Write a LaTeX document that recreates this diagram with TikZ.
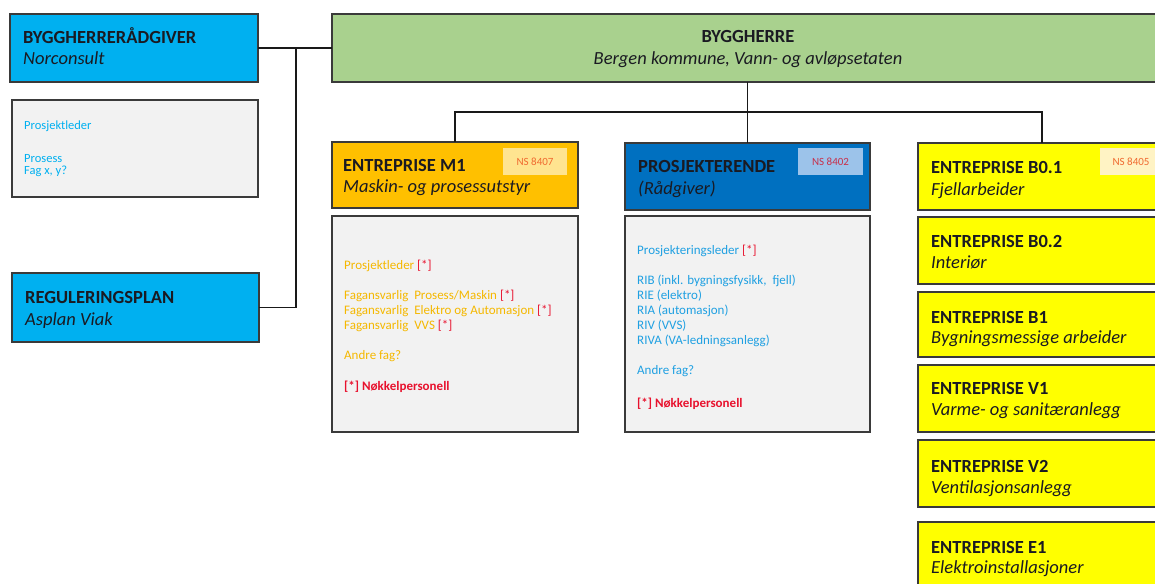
\documentclass[tikz,border=0pt]{standalone}
\usepackage{fontspec}
\setmainfont{Carlito}
\definecolor{ltblue}{HTML}{00B0F0}
\definecolor{dkblue}{HTML}{0070C0}
\definecolor{grn}{HTML}{A9D18E}
\definecolor{orng}{HTML}{FFC000}
\definecolor{ylw}{HTML}{FFFF00}
\definecolor{gry}{HTML}{F2F2F2}
\definecolor{edge}{HTML}{3A3A3A}
\definecolor{star}{HTML}{E8112D}
\definecolor{txtdark}{HTML}{1A1A22}
\definecolor{mtxt}{HTML}{F5B800}
\definecolor{ptxt}{HTML}{1FA0E2}
\definecolor{tagy}{HTML}{FFE490}
\definecolor{tagb}{HTML}{9CC3EA}
\definecolor{tagp}{HTML}{FFF3C4}
\definecolor{tagtxt}{HTML}{F06A30}
\definecolor{tagtxtb}{HTML}{C8304A}
\tikzset{
 box/.style={draw=edge, line width=1.3pt, rectangle, inner sep=0pt, outer sep=0pt, anchor=north west},
 ttl/.style={anchor=base west, inner sep=0pt, font=\fontsize{18.5}{21}\selectfont\bfseries, text=txtdark},
 sub/.style={anchor=base west, inner sep=0pt, font=\fontsize{18.5}{21}\selectfont\itshape, text=txtdark},
 itm/.style={anchor=base west, inner sep=0pt, font=\fontsize{13}{15}\selectfont},
 pitm/.style={itm, text=ptxt},
 mitm/.style={itm, text=mtxt},
 litm/.style={itm, text=ltblue, font=\fontsize{12.5}{14}\selectfont},
 keyp/.style={itm, text=star, font=\fontsize{13}{15}\selectfont\bfseries},
 tagbox/.style={rectangle, inner sep=0pt, outer sep=0pt, anchor=north west, minimum height=27pt, font=\fontsize{11}{13}\selectfont},
 link/.style={draw=black!90, line width=1.4pt},
}
\begin{document}
\begin{tikzpicture}[x=1pt,y=1pt]
\clip (0,0) rectangle (1155,-583);
\fill[white] (0,0) rectangle (1155,-583);
% boxes
\node[box, fill=ltblue, minimum width=248pt, minimum height=68pt] (bra) at (10,-14) {};
\node[box, fill=gry, minimum width=246pt, minimum height=97pt] (pl) at (12,-100) {};
\node[box, fill=ltblue, minimum width=247pt, minimum height=69pt] (reg) at (12,-273) {};
\node[box, fill=grn, minimum width=832pt, minimum height=68pt] (bh) at (332,-14) {};
\node[box, fill=orng, minimum width=246pt, minimum height=66pt] (m1) at (332,-142) {};
\node[box, fill=gry, minimum width=246pt, minimum height=216pt] (m1g) at (332,-216) {};
\node[box, fill=dkblue, minimum width=245pt, minimum height=67pt] (pr) at (625,-143) {};
\node[box, fill=gry, minimum width=245pt, minimum height=216pt] (prg) at (625,-216) {};
\node[box, fill=ylw, minimum width=248pt, minimum height=67pt] (b01) at (918,-143) {};
\node[box, fill=ylw, minimum width=248pt, minimum height=67pt] (b02) at (918,-217) {};
\node[box, fill=ylw, minimum width=248pt, minimum height=65pt] (b1) at (918,-292) {};
\node[box, fill=ylw, minimum width=248pt, minimum height=67pt] (v1) at (918,-365) {};
\node[box, fill=ylw, minimum width=248pt, minimum height=67pt] (v2) at (918,-440) {};
\node[box, fill=ylw, minimum width=248pt, minimum height=70pt] (e1) at (918,-522) {};
% tags
\node[tagbox, fill=tagy, minimum width=64pt, text=tagtxt] (m1tag) at (503,-148) {NS 8407};
\node[tagbox, fill=tagb, minimum width=65pt, text=tagtxtb] (prtag) at (798,-148) {NS 8402};
\node[tagbox, fill=tagp, minimum width=62pt, text=tagtxt] (b01tag) at (1100,-148) {NS 8405};
% connectors
\draw[link] (bra.east) -- (bh.west);
\draw[link] ([xshift=38pt]bra.east) |- (reg.east);
\draw[link] (pr.north |- bh.south) -- (pr.north);
\draw[link] (m1.north) -- ++(0,30) -| (b01.north);
% titles
\node[ttl] (braT) at ([shift={(13,-29.5)}]bra.north west) {BYGGHERRERÅDGIVER};
\node[sub] (braS) at ([shift={(13,-51)}]bra.north west) {Norconsult};
\node[ttl] (regT) at ([shift={(13,-30)}]reg.north west) {REGULERINGSPLAN};
\node[sub] (regS) at ([shift={(13,-52)}]reg.north west) {Asplan Viak};
\node[ttl, anchor=base] (bhT) at (748,-43) {BYGGHERRE};
\node[sub, anchor=base] (bhS) at (748,-65) {Bergen kommune, Vann- og avløpsetaten};
\node[ttl] (m1T) at ([shift={(11,-29)}]m1.north west) {ENTREPRISE M1};
\node[sub] (m1S) at ([shift={(11,-50)}]m1.north west) {Maskin- og prosessutstyr};
\node[ttl] (prT) at ([shift={(13,-29)}]pr.north west) {PROSJEKTERENDE};
\node[sub] (prS) at ([shift={(13,-51)}]pr.north west) {(Rådgiver)};
\node[ttl] (b01T) at ([shift={(13,-30)}]b01.north west) {ENTREPRISE B0.1};
\node[sub] (b01S) at ([shift={(13,-52)}]b01.north west) {Fjellarbeider};
\node[ttl] (b02T) at ([shift={(13,-30)}]b02.north west) {ENTREPRISE B0.2};
\node[sub] (b02S) at ([shift={(13,-51)}]b02.north west) {Interiør};
\node[ttl] (b1T) at ([shift={(13,-31)}]b1.north west) {ENTREPRISE B1};
\node[sub] (b1S) at ([shift={(13,-51)}]b1.north west) {Bygningsmessige arbeider};
\node[ttl] (v1T) at ([shift={(13,-29)}]v1.north west) {ENTREPRISE V1};
\node[sub] (v1S) at ([shift={(13,-50)}]v1.north west) {Varme- og sanitæranlegg};
\node[ttl] (v2T) at ([shift={(13,-32)}]v2.north west) {ENTREPRISE V2};
\node[sub] (v2S) at ([shift={(13,-53)}]v2.north west) {Ventilasjonsanlegg};
\node[ttl] (e1T) at ([shift={(13,-31)}]e1.north west) {ENTREPRISE E1};
\node[sub] (e1S) at ([shift={(13,-51)}]e1.north west) {Elektroinstallasjoner};
% grey box 1
\node[litm] (pl1) at (24,-129) {Prosjektleder};
\node[litm] (pl2) at (24,-162) {Prosess};
\node[litm] (pl3) at (24,-174) {Fag x, y?};
% M1 list
\node[mitm] (m1a) at (344,-269) {Prosjektleder \textcolor{star}{[*]}};
\node[mitm] (m1b) at (344,-299) {Fagansvarlig\ \ Prosess/Maskin \textcolor{star}{[*]}};
\node[mitm] (m1c) at (344,-314) {Fagansvarlig\ \ Elektro og Automasjon \textcolor{star}{[*]}};
\node[mitm] (m1d) at (344,-329) {Fagansvarlig\ \ VVS \textcolor{star}{[*]}};
\node[mitm] (m1e) at (344,-359) {Andre fag?};
\node[keyp] (m1f) at (344,-390) {[*] Nøkkelpersonell};
% Prosjekterende list
\node[pitm] (pra) at (637,-254) {Prosjekteringsleder \textcolor{star}{[*]}};
\node[pitm] (prb) at (637,-284) {RIB (inkl. bygningsfysikk,\ \ fjell)};
\node[pitm] (prc) at (637,-299) {RIE (elektro)};
\node[pitm] (prd) at (637,-314) {RIA (automasjon)};
\node[pitm] (pre) at (637,-329) {RIV (VVS)};
\node[pitm] (prf) at (637,-344) {RIVA (VA-ledningsanlegg)};
\node[pitm] (prh) at (637,-374) {Andre fag?};
\node[keyp] (pri) at (637,-407) {[*] Nøkkelpersonell};
\end{tikzpicture}
\end{document}
